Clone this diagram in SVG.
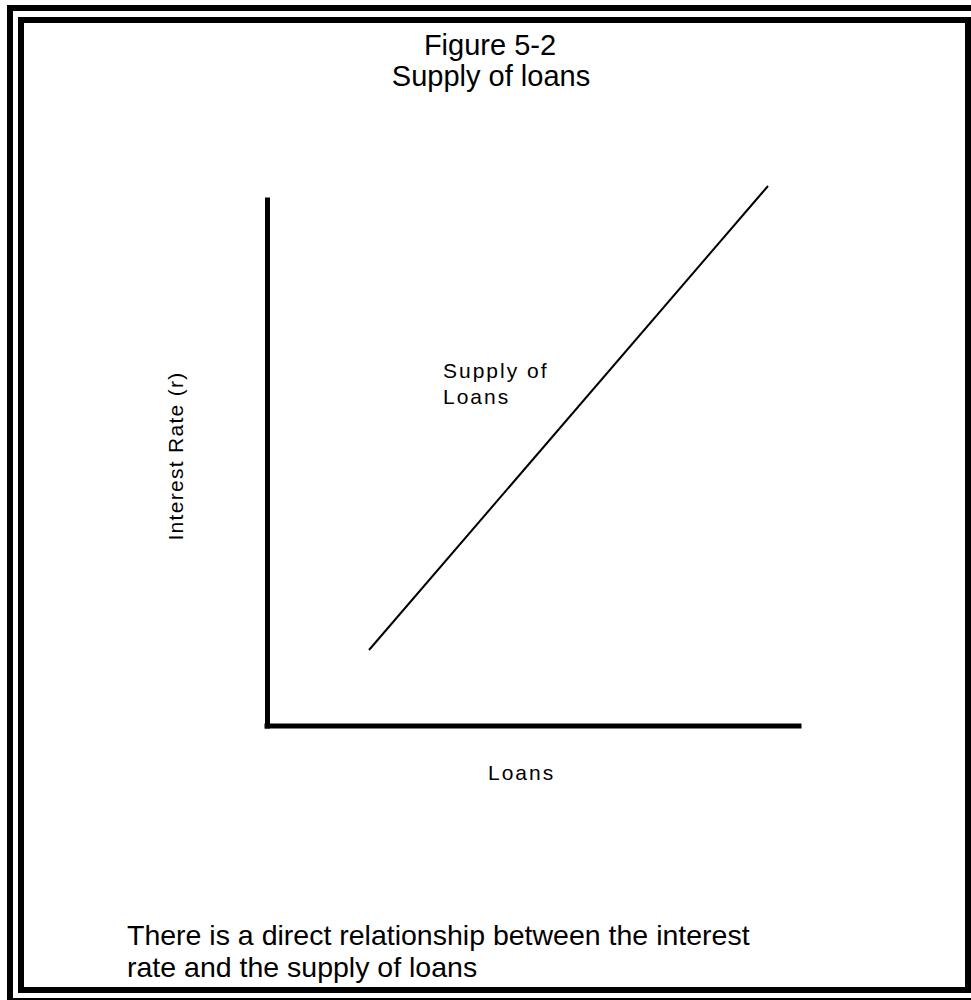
<svg xmlns="http://www.w3.org/2000/svg" width="971" height="1000" viewBox="0 0 971 1000">
<style>
.frame{fill:none;stroke:#000;stroke-width:6}
.axis{stroke:#000;stroke-width:5;stroke-linecap:square}
.curve{stroke:#000;stroke-width:2;fill:none}
.big{font-family:"Liberation Sans",Arial,sans-serif;font-size:28.5px;fill:#000}
.title{font-size:29px}
.small{font-family:"Liberation Sans",Arial,sans-serif;font-size:21px;fill:#000;letter-spacing:2px}
</style>
<rect width="971" height="1000" fill="#fff"/>
<g id="frame">
<rect class="frame" x="10" y="8" width="980" height="993"/>
<rect class="frame" x="21" y="20" width="947" height="970"/>
</g>
<g id="title">
<text class="big title" x="490" y="55" text-anchor="middle">Figure 5-2</text>
<text class="big title" x="491" y="86" text-anchor="middle">Supply of loans</text>
</g>
<g id="connectors">
<line class="axis" x1="267.5" y1="200" x2="267.5" y2="726"/>
<line class="axis" x1="267" y1="726" x2="799" y2="726"/>
<line class="curve" x1="369" y1="650" x2="768" y2="186"/>
</g>
<g id="supply-label">
<text class="small" x="443" y="378">Supply of</text>
<text class="small" x="443" y="404">Loans</text>
</g>
<g id="x-label"><text class="small" x="488" y="780">Loans</text></g>
<g id="y-label"><text class="small" style="letter-spacing:1.3px" transform="translate(183,456) rotate(-90)" text-anchor="middle">Interest Rate (r)</text></g>
<g id="caption">
<text class="big" x="127" y="945">There is a direct relationship between the interest</text>
<text class="big" x="127" y="977">rate and the supply of loans</text>
</g>
</svg>
